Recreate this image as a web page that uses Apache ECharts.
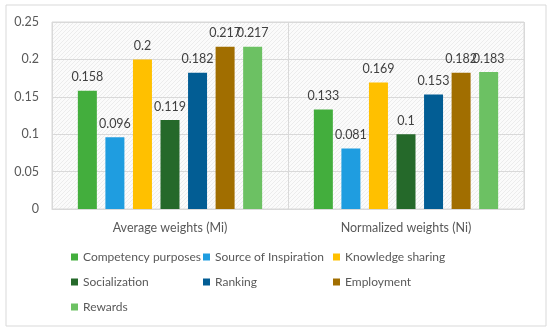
<!DOCTYPE html>
<html><head><meta charset="utf-8">
<script src="https://cdn.jsdelivr.net/npm/echarts@6/dist/echarts.min.js"></script>
<style>html,body{margin:0;padding:0;background:#fff}#c{width:550px;height:334px}</style>
</head><body><div id="c"></div>
<script>
const categories = ['Average weights (Mi)', 'Normalized weights (Ni)'];
const seriesNames = ['Competency purposes','Source of Inspiration','Knowledge sharing','Socialization','Ranking','Employment','Rewards'];
const competency = [0.158, 0.133];
const inspiration = [0.096, 0.081];
const knowledge = [0.2, 0.169];
const socialization = [0.119, 0.1];
const ranking = [0.182, 0.153];
const employment = [0.217, 0.182];
const rewards = [0.217, 0.183];
const yTicks = [0, 0.05, 0.1, 0.15, 0.2, 0.25];
const colors = ['#43ae3d','#1f9de0','#ffc000','#25692a','#025d94','#a16e00','#6cc163'];
const values = [competency, inspiration, knowledge, socialization, ranking, employment, rewards];

const pc = document.createElement('canvas');
pc.width = 4; pc.height = 4;
const g = pc.getContext('2d');
g.fillStyle = '#fbfbfb'; g.fillRect(0,0,4,4);
g.fillStyle = '#ececec';
for (let i=0;i<4;i++){ g.fillRect(i,3-i,1,1); }

const font = 'Lato, Carlito, Calibri, sans-serif';
const chart = echarts.init(document.getElementById('c'), null, {renderer:'canvas'});
const legendBase = {orient:'vertical', top:246, itemWidth:7, itemHeight:7, itemGap:13, icon:'rect',
  textStyle:{fontFamily:font, fontSize:12, color:'#595959'}};
chart.setOption({
  animation:false,
  color: colors,
  textStyle:{fontFamily:font},
  graphic:[{type:'rect', shape:{x:6,y:5,width:540,height:321}, style:{fill:'none', stroke:'#d9d9d9', lineWidth:1}, z:-10}],
  grid:{left:52, right:26, top:22, bottom:125, show:true, backgroundColor:{image:pc, repeat:'repeat'}, borderColor:'#d9d9d9', borderWidth:1},
  legend:[
    Object.assign({left:66, data:[seriesNames[0], seriesNames[3], seriesNames[6]]}, legendBase),
    Object.assign({left:198, data:[seriesNames[1], seriesNames[4]]}, legendBase),
    Object.assign({left:328, data:[seriesNames[2], seriesNames[5]]}, legendBase)
  ],
  xAxis:{type:'category', data:categories,
    axisLine:{lineStyle:{color:'#d9d9d9'}}, axisTick:{show:false},
    splitLine:{show:true, lineStyle:{color:'#d9d9d9'}},
    axisLabel:{margin:12, fontSize:12.5, color:'#595959', fontFamily:font}},
  yAxis:{type:'value', min:yTicks[0], max:yTicks[yTicks.length-1], interval:0.05,
    axisLine:{show:false}, axisTick:{show:false},
    splitLine:{lineStyle:{color:'#d9d9d9'}},
    axisLabel:{margin:13, fontSize:12.5, color:'#595959', fontFamily:font}},
  series: seriesNames.map((n,i)=>({
    name:n, type:'bar', data:values[i], barWidth:19, barGap:'45%',
    label:{show:true, position:'top', distance:7, fontSize:12.5, color:'#404040', fontFamily:font}
  }))
});
</script></body></html>
